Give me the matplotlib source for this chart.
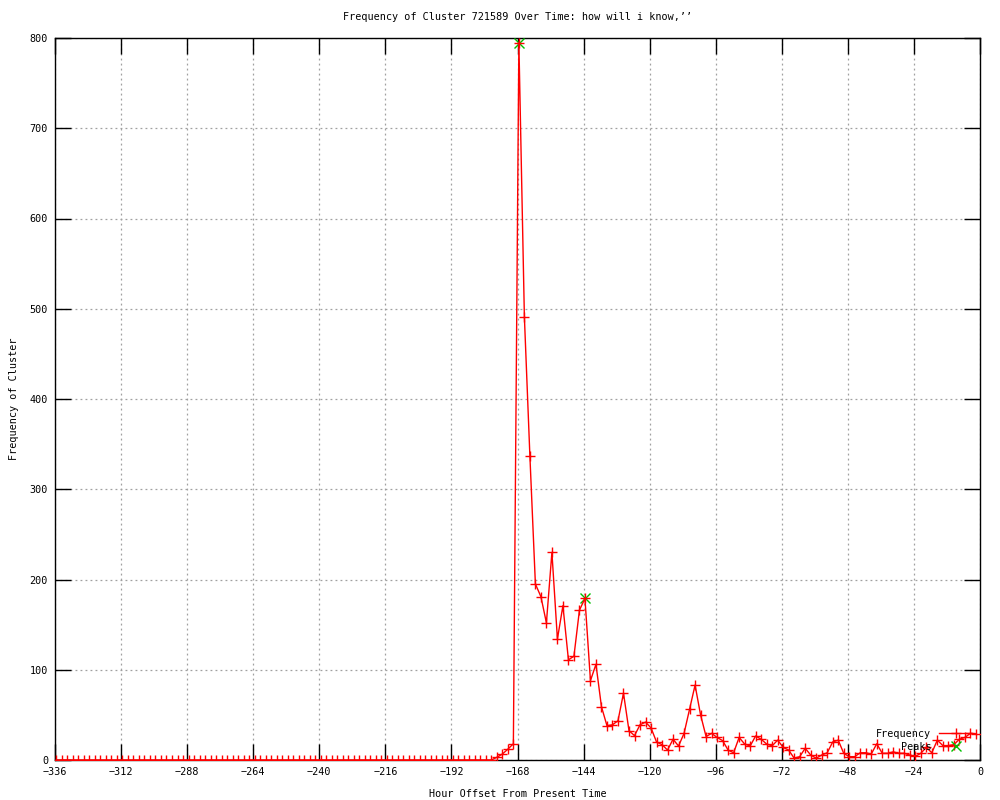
import numpy as np
import matplotlib
matplotlib.use('Agg')
import matplotlib.pyplot as plt

plt.rcParams['font.family'] = ['DejaVu Sans Mono']
plt.rcParams['font.size'] = 7.3

# hour offsets (one point every 2 hours)
hours = np.arange(-335.5, 0, 2)

# flat part before the burst
freq_head = [0] * 78
# -179.5 .. -1.5
freq_tail = [0, 0, 3, 6.6, 12, 18, 795, 491, 337, 195,
             181, 152, 230, 134, 171, 111, 115, 166, 179, 88,
             106, 59, 38, 39, 43.5, 74, 32.5, 27, 39, 42,
             35.6, 20, 17, 11, 23, 15.5, 29.5, 56, 83, 50,
             26, 29.5, 25, 21.5, 11, 8, 25, 17.7, 15.5, 26.6,
             23, 17.7, 15.7, 22, 14, 11, 2, 3.7, 13, 5.5,
             2, 5.5, 8, 20, 22, 7.4, 3.7, 3.7, 8, 8,
             6.6, 18, 7.4, 7.4, 9, 7.4, 7.4, 5.5, 4, 7.4,
             14, 8, 22, 16, 16, 17, 23, 25, 29.5, 29]
freq = freq_head + freq_tail

peak_hours = [-167.5, -143.5]
peak_vals = [795, 179]

fig = plt.figure(figsize=(10, 8), dpi=100)
ax = fig.add_axes([0.055, 0.05, 0.925, 0.9025])

ax.plot(peak_hours, peak_vals, linestyle='none', marker='x', color='#00c000',
        markersize=6.5, markeredgewidth=1, label='Peaks', zorder=3)
ax.plot(hours, freq, color='red', linewidth=1, marker='+', markersize=6.5,
        markeredgewidth=1, label='Frequency', zorder=4)

ax.set_xlim(-336, 0)
ax.set_ylim(0, 800)
ax.set_xticks(np.arange(-336, 1, 24))
ax.set_yticks(np.arange(0, 801, 100))

ax.tick_params(direction='in', length=11.5, width=1, top=True, right=True,
               labelsize=7.3, colors='black', pad=5)
ax.grid(True, color='#a0a0a0', linestyle=(0, (1.5, 2.5)), linewidth=0.9)
for s in ax.spines.values():
    s.set_linewidth(1)

ax.set_title("Frequency of Cluster 721589 Over Time: how will i know,’’",
             fontsize=7.3, pad=13)
ax.set_xlabel('Hour Offset From Present Time', labelpad=9)
ax.set_ylabel('Frequency of Cluster', labelpad=8)

h, l = ax.get_legend_handles_labels()
ax.legend([h[1], h[0]], [l[1], l[0]], loc='lower right', frameon=False,
          markerfirst=False, handlelength=3.2, labelspacing=0.3,
          borderaxespad=0.4, fontsize=7.3)

fig.savefig('out.png', dpi=100)
